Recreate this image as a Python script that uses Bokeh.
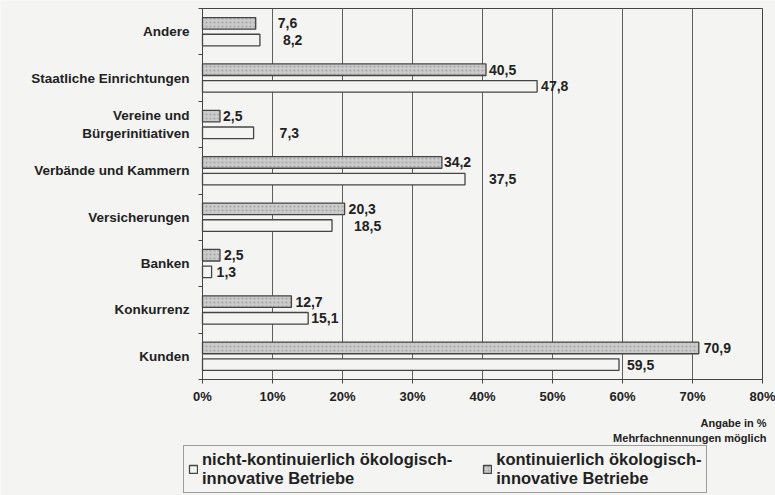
from bokeh.plotting import figure
from bokeh.models import Range1d, FixedTicker, Legend, LegendItem, Label, ColumnDataSource
from bokeh.core.properties import value
from bokeh.embed import file_html
from bokeh.resources import INLINE

# ---- data ----
categories = ["Andere", "Staatliche Einrichtungen", "Vereine und\nBürgerinitiativen",
              "Verbände und Kammern", "Versicherungen", "Banken", "Konkurrenz", "Kunden"]
kontinuierlich = [7.6, 40.5, 2.5, 34.2, 20.3, 2.5, 12.7, 70.9]
nicht_kontinuierlich = [8.2, 47.8, 7.3, 37.5, 18.5, 1.3, 15.1, 59.5]
x_ticks = [0, 10, 20, 30, 40, 50, 60, 70, 80]
x_tick_labels = ["0%", "10%", "20%", "30%", "40%", "50%", "60%", "70%", "80%"]
series_names = ["nicht-kontinuierlich ökologisch-\ninnovative Betriebe",
                "kontinuierlich ökologisch-\ninnovative Betriebe"]
note_lines = ["Angabe in %", "Mehrfachnennungen möglich"]

# ---- style / layout ----
BG = "#f4f4f2"
INK = "#222222"
EDGE = "#454545"
FONT = value("Liberation Sans")
W, H = 775, 495
PLOT_L, PLOT_R, PLOT_T, PLOT_B = 202, 762, 8, 379   # plotting area in pixels
label_dx_k = [22, 3, 3, 2, 4, 4, 4, 5]
label_dx_n = [23, 4, 26, 24, 22, 5, 3, 8]

n = len(categories)
xmin, xmax = x_ticks[0], x_ticks[-1]
ylo, yhi = -0.5, n - 0.5
sx = (PLOT_R - PLOT_L) / (xmax - xmin)
sy = (PLOT_B - PLOT_T) / (yhi - ylo)
x_range = Range1d(xmin - PLOT_L / sx, xmax + (W - PLOT_R) / sx)
y_range = Range1d(ylo - (H - PLOT_B) / sy, yhi + PLOT_T / sy)

ypos = [n - 1 - i for i in range(n)]
off = 0.18
fmt = lambda v: f"{v:.1f}".replace(".", ",")

src_k = ColumnDataSource(dict(y=[y + off for y in ypos], v=kontinuierlich,
                              lab=[fmt(v) for v in kontinuierlich], dx=label_dx_k))
src_n = ColumnDataSource(dict(y=[y - off for y in ypos], v=nicht_kontinuierlich,
                              lab=[fmt(v) for v in nicht_kontinuierlich], dx=label_dx_n))

p = figure(width=W, height=H, x_range=x_range, y_range=y_range,
           output_backend="svg", toolbar_location=None,
           min_border_left=0, min_border_right=0, min_border_top=0, min_border_bottom=0,
           background_fill_color=BG, border_fill_color=BG)
p.outline_line_color = None
p.xgrid.visible = False
p.ygrid.visible = False

# plot-area frame and vertical grid lines
p.quad(left=xmin, right=xmax, bottom=ylo, top=yhi, fill_color=None,
       line_color=EDGE, line_width=1)
p.segment(x0=x_ticks[1:-1], x1=x_ticks[1:-1], y0=ylo, y1=yhi,
          line_color="#5e5e5e", line_width=1)

r_n = p.hbar(y="y", right="v", left=0, height=0.25, source=src_n,
             fill_color=BG, line_color=EDGE, line_width=1.3)
r_k = p.hbar(y="y", right="v", left=0, height=0.25, source=src_k,
             fill_color="#cbcbcb", line_color=EDGE, line_width=1.3,
             hatch_pattern="dot", hatch_color="#a2a2a2", hatch_scale=4, hatch_weight=1)

for src in (src_k, src_n):
    p.text(x="v", y="y", text="lab", x_offset="dx", source=src,
           text_font=FONT, text_font_style="bold", text_font_size="14px",
           text_color=INK, text_baseline="middle", text_align="left")

# axes (fixed inside the canvas)
xa = p.xaxis[0]
xa.fixed_location = ylo
xa.bounds = (xmin, xmax)
xa.ticker = FixedTicker(ticks=x_ticks)
xa.major_label_overrides = {t: l for t, l in zip(x_ticks, x_tick_labels)}
xa.major_label_text_font = "Liberation Sans"
xa.major_label_text_font_style = "bold"
xa.major_label_text_font_size = "13px"
xa.major_label_text_color = INK
xa.axis_line_color = EDGE
xa.major_tick_line_color = EDGE
xa.major_tick_out = 4
xa.major_tick_in = 0
xa.minor_tick_line_color = None
xa.major_label_standoff = 5

ya = p.yaxis[0]
ya.fixed_location = xmin
ya.bounds = (ylo, yhi)
ya.ticker = FixedTicker(ticks=ypos, minor_ticks=[ylo + i for i in range(n + 1)])
ya.major_label_overrides = {y: c for y, c in zip(ypos, categories)}
ya.major_label_text_font = "Liberation Sans"
ya.major_label_text_font_style = "bold"
ya.major_label_text_font_size = "13.5px"
ya.major_label_text_color = INK
ya.axis_line_color = EDGE
ya.major_tick_line_color = None
ya.major_tick_out = 0
ya.major_tick_in = 0
ya.minor_tick_line_color = EDGE
ya.minor_tick_out = 4
ya.minor_tick_in = 0
ya.major_label_standoff = 9

# notes below the axis, right aligned
for i, t in enumerate(note_lines):
    p.add_layout(Label(x=xmax, y=H - 422 - 15 * i, x_units="data", y_units="screen", x_offset=4,
                       text=t, text_align="right", text_baseline="middle",
                       text_font="Liberation Sans", text_font_style="bold",
                       text_font_size="11px", text_color=INK))

legend = Legend(items=[LegendItem(label=series_names[0], renderers=[r_n]),
                       LegendItem(label=series_names[1], renderers=[r_k])],
                location=(183, 2), orientation="horizontal", margin=0,
                padding=4, spacing=30, glyph_width=10, glyph_height=10, label_standoff=4,
                label_text_font="Liberation Sans", label_text_font_style="bold",
                label_text_font_size="16.5px", label_text_color=INK,
                border_line_color=EDGE, border_line_width=1,
                background_fill_color=BG, background_fill_alpha=1)
p.add_layout(legend)

open("out.html", "w").write(file_html(p, INLINE))
